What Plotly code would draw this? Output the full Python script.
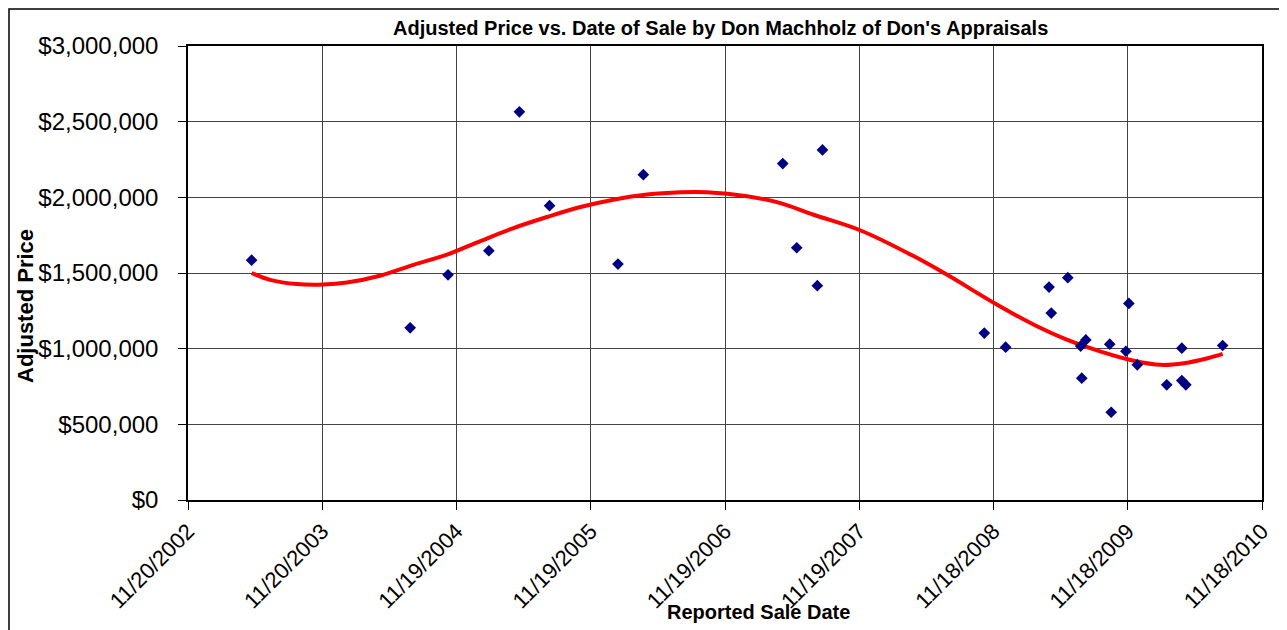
import plotly.graph_objects as go

# ---- data ----
sale_dates = [
    "2003-05-12", "2004-07-16", "2004-10-27", "2005-02-15", "2005-05-09",
    "2005-07-30", "2006-02-01", "2006-04-11", "2007-04-25", "2007-06-02",
    "2007-07-28", "2007-08-11", "2008-10-24", "2008-12-21", "2009-04-18",
    "2009-04-24", "2009-06-08", "2009-07-13", "2009-07-16", "2009-07-27",
    "2009-09-30", "2009-10-04", "2009-11-13", "2009-11-21", "2009-12-14",
    "2010-03-04", "2010-04-14", "2010-04-14", "2010-04-25", "2010-08-03",
]
adjusted_prices = [
    1585000, 1138000, 1488000, 1647000, 2565000,
    1945000, 1559000, 2150000, 2223000, 1667000,
    1416000, 2313000, 1103000, 1010000, 1407000,
    1235000, 1469000, 1017000, 805000, 1058000,
    1030000, 580000, 983000, 1299000, 893000,
    761000, 1003000, 789000, 761000, 1021000,
]

trend_dates = [
    "2003-05-12", "2003-07-01", "2003-09-12", "2003-11-23", "2004-01-26",
    "2004-04-25", "2004-07-25", "2004-10-24", "2005-01-23", "2005-04-23",
    "2005-07-23", "2005-10-22", "2006-01-20", "2006-04-21", "2006-07-21",
    "2006-10-01", "2007-01-18", "2007-04-19", "2007-07-18", "2007-11-23",
    "2008-04-16", "2008-07-15", "2008-11-28", "2009-03-08", "2009-06-07",
    "2009-09-06", "2009-12-05", "2010-02-16", "2010-04-20", "2010-06-23",
    "2010-08-03",
]
trend_values = [
    1500000, 1455000, 1427000, 1424000, 1437000,
    1482000, 1554000, 1621000, 1711000, 1797000,
    1870000, 1936000, 1984000, 2018000, 2033000,
    2033000, 2007000, 1962000, 1885000, 1781000,
    1610000, 1488000, 1290000, 1158000, 1058000,
    981000, 920000, 893000, 904000, 937000,
    966000,
]

x_tick_dates = [
    "2002-11-20", "2003-11-20", "2004-11-19", "2005-11-19", "2006-11-19",
    "2007-11-19", "2008-11-18", "2009-11-18", "2010-11-18",
]
x_tick_labels = [
    "11/20/2002", "11/20/2003", "11/19/2004", "11/19/2005", "11/19/2006",
    "11/19/2007", "11/18/2008", "11/18/2009", "11/18/2010",
]
y_tick_values = [0, 500000, 1000000, 1500000, 2000000, 2500000, 3000000]
y_tick_labels = ["$0", "$500,000", "$1,000,000", "$1,500,000",
                 "$2,000,000", "$2,500,000", "$3,000,000"]

FONT = "Liberation Sans, Arial, sans-serif"

fig = go.Figure()
fig.add_trace(go.Scatter(
    x=trend_dates, y=trend_values, mode="lines",
    line=dict(color="#ff0000", width=4, shape="spline", smoothing=1.0),
    hoverinfo="skip", showlegend=False,
))
fig.add_trace(go.Scatter(
    x=sale_dates, y=adjusted_prices, mode="markers",
    marker=dict(symbol="diamond", size=9, color="#000080", line=dict(width=0)),
    showlegend=False,
))

# page has an 8px body margin: figure origin sits at page (8, 8)
OFF = 8
W, H = 1287 - OFF, 630 - OFF
L, R, T, B = 188 - OFF, 25, 46 - OFF, 130
pw, ph = W - L - R, H - T - B


def px(page_x):
    return (page_x - OFF - L) / pw


def py(page_y):
    return (H - B - (page_y - OFF)) / ph


fig.update_layout(
    width=W, height=H,
    margin=dict(l=L, r=R, t=T, b=B, pad=0, autoexpand=False),
    paper_bgcolor="white", plot_bgcolor="white",
    font=dict(family=FONT, color="black"),
    xaxis=dict(
        type="date",
        range=[x_tick_dates[0], x_tick_dates[-1]],
        tickmode="array", tickvals=x_tick_dates, ticktext=x_tick_labels,
        tickangle=-45, tickfont=dict(size=22, family=FONT),
        ticks="outside", ticklen=8, tickcolor="black",
        showgrid=True, gridcolor="#444444", gridwidth=1,
        showline=True, linecolor="black", linewidth=1.5, mirror=True,
        zeroline=False, automargin=False,
    ),
    yaxis=dict(
        range=[0, 3000000],
        tickmode="array", tickvals=y_tick_values, ticktext=y_tick_labels,
        tickfont=dict(size=24, family=FONT),
        ticks="outside", ticklen=8, tickcolor="black",
        ticklabelstandoff=15,
        showgrid=True, gridcolor="#444444", gridwidth=1,
        showline=True, linecolor="black", linewidth=1.5, mirror=True,
        zeroline=False, automargin=False,
    ),
    shapes=[dict(
        type="rect", xref="paper", yref="paper",
        x0=px(OFF + 1), x1=px(1320), y0=py(700), y1=py(OFF + 1),
        line=dict(color="black", width=1.5), fillcolor="rgba(0,0,0,0)",
        layer="below",
    )],
    annotations=[
        dict(text="<b>Adjusted Price vs. Date of Sale by Don Machholz of Don's Appraisals</b>",
             xref="paper", yref="paper", x=px(720), y=py(28),
             xanchor="center", yanchor="middle", showarrow=False,
             font=dict(size=20, family=FONT)),
        dict(text="<b>Adjusted Price</b>",
             xref="paper", yref="paper", x=px(25), y=py(306),
             xanchor="center", yanchor="middle", showarrow=False, textangle=-90,
             font=dict(size=22, family=FONT)),
        dict(text="<b>Reported Sale Date</b>",
             xref="paper", yref="paper", x=px(758), y=py(612),
             xanchor="center", yanchor="middle", showarrow=False,
             font=dict(size=20, family=FONT)),
    ],
)

fig.write_html("out.html")
